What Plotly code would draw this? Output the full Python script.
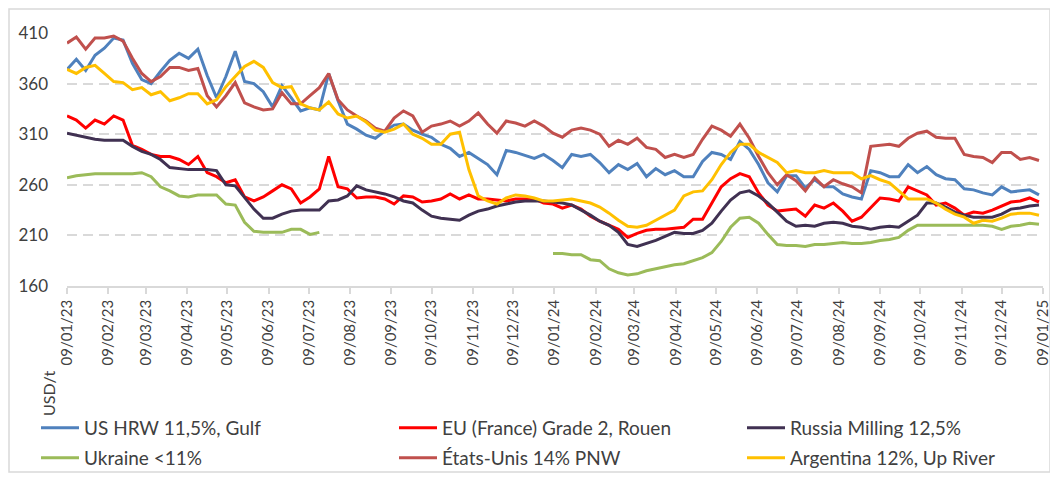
import pandas as pd
import plotly.graph_objects as go

# Weekly observation dates (every Monday from 9 Jan 2023)
dates = pd.date_range("2023-01-09", periods=105, freq="7D")

us_hrw_gulf = [374, 384, 373, 388, 395, 405, 403, 380, 364, 360, 372, 383, 390, 385, 394, 368, 346, 367, 392, 362,
               360, 352, 337, 358, 346, 333, 336, 334, 370, 343, 320, 315, 309, 306, 313, 319, 320, 314, 310, 307,
               300, 296, 288, 292, 286, 280, 270, 294, 292, 289, 286, 290, 284, 277, 290, 288, 290, 282, 272, 280,
               275, 281, 268, 276, 270, 274, 268, 268, 283, 292, 290, 285, 303, 295, 280, 262, 253, 269, 269, 257,
               265, 258, 258, 251, 248, 246, 274, 272, 268, 268, 280, 272, 278, 270, 266, 265, 256, 255, 252, 250,
               258, 253, 254, 255, 250]

eu_france_rouen = [328, 324, 316, 324, 320, 328, 324, 299, 295, 290, 288, 288, 285, 280, 288, 272, 268, 262, 265, 248,
                   244, 248, 254, 260, 256, 242, 248, 256, 288, 258, 256, 247, 248, 248, 246, 241, 249, 248, 243, 244,
                   246, 251, 246, 250, 246, 246, 245, 244, 246, 246, 246, 242, 241, 237, 240, 236, 229, 224, 220, 216,
                   208, 212, 215, 216, 216, 217, 218, 226, 226, 242, 258, 266, 271, 268, 252, 240, 234, 235, 236, 229,
                   240, 237, 242, 234, 224, 228, 238, 247, 246, 244, 258, 254, 250, 240, 242, 237, 230, 233, 232, 235,
                   239, 243, 244, 247, 243]

russia_milling = [311, 309, 307, 305, 304, 304, 304, 298, 293, 290, 285, 277, 276, 275, 275, 275, 274, 260, 259, 247,
                  236, 227, 227, 231, 234, 235, 235, 235, 244, 245, 249, 259, 255, 253, 251, 248, 244, 242, 235, 229,
                  227, 226, 225, 230, 234, 236, 239, 241, 243, 244, 244, 244, 243, 242, 240, 235, 230, 224, 220, 213,
                  201, 199, 202, 205, 209, 213, 212, 212, 215, 222, 234, 245, 252, 254, 249, 242, 233, 224, 219, 220,
                  219, 222, 223, 222, 219, 218, 216, 218, 219, 218, 224, 230, 242, 242, 238, 233, 230, 228, 228, 228,
                  231, 236, 237, 239, 240]

ukraine = [267, 269, 270, 271, 271, 271, 271, 271, 272, 268, 258, 254, 249, 248, 250, 250, 250, 241, 240, 223,
           214, 213, 213, 213, 216, 216, 211, 213, None, None, None, None, None, None, None, None, None, None, None, None,
           None, None, None, None, None, None, None, None, None, None, None, None, 192, 192, 191, 191, 186, 185, 177, 173,
           171, 172, 175, 177, 179, 181, 182, 185, 188, 193, 204, 218, 227, 228, 222, 211, 201, 200, 200, 199,
           201, 201, 202, 203, 202, 202, 203, 205, 206, 208, 215, 220, 220, 220, 220, 220, 220, 220, 220, 219,
           216, 219, 220, 222, 221]

us_pnw = [400, 406, 394, 405, 405, 407, 402, 385, 370, 362, 367, 376, 376, 373, 375, 348, 337, 348, 361, 341,
          337, 334, 335, 351, 340, 340, 348, 356, 370, 344, 334, 328, 323, 316, 313, 326, 333, 328, 312, 318,
          320, 323, 318, 323, 331, 320, 311, 323, 321, 318, 323, 318, 311, 307, 314, 316, 314, 310, 298, 304,
          300, 306, 297, 295, 287, 290, 287, 290, 305, 318, 314, 308, 320, 306, 288, 272, 260, 270, 264, 254,
          267, 258, 265, 261, 258, 252, 298, 299, 300, 298, 306, 311, 313, 307, 306, 306, 290, 288, 287, 282,
          292, 292, 285, 287, 284]

argentina = [374, 370, 376, 378, 370, 362, 361, 354, 356, 349, 352, 343, 346, 350, 350, 340, 344, 357, 367, 377,
             382, 376, 361, 356, 357, 340, 336, 334, 342, 330, 326, 328, 322, 314, 312, 315, 320, 310, 306, 300,
             300, 310, 312, 275, 249, 244, 241, 247, 250, 249, 247, 244, 244, 245, 246, 244, 242, 238, 232, 225,
             219, 218, 220, 225, 230, 235, 249, 253, 254, 265, 280, 292, 300, 300, 292, 287, 282, 272, 274, 272,
             272, 274, 272, 272, 272, 266, 269, 265, 262, 254, 246, 246, 246, 242, 236, 231, 228, 222, 225, 224,
             227, 231, 232, 232, 230]

series_names = ["US HRW 11,5%, Gulf", "EU (France) Grade 2, Rouen", "Russia Milling 12,5%",
                "Ukraine <11%", "États-Unis 14% PNW", "Argentina 12%, Up River"]
series_values = [us_hrw_gulf, eu_france_rouen, russia_milling, ukraine, us_pnw, argentina]
series_colors = ["#4F81BD", "#FF0000", "#403152", "#9BBB59", "#C0504D", "#FFC000"]

tick_dates = pd.date_range("2023-01-09", periods=25, freq=pd.DateOffset(months=1))
tick_text = [d.strftime("%d/%m/%y") for d in tick_dates]
y_ticks = [160, 210, 260, 310, 360, 410]

FONT = "Lato"
GREY = "#404040"

# page body adds an 8px offset, so the figure is sized to the remaining window
W, H = 1050, 471
L, R, T, B = 59, 15, 25, 193
pw, ph = W - L - R, H - T - B


def px_x(p):
    return (p - L) / pw


def px_y(p):
    return (H - B - p) / ph


# legend slot per series: (left pixel, row centre pixel) in figure pixels
legend_cols = [28, 386, 734]
legend_rows = [420, 450]

fig = go.Figure()
layout_legends = {}
for i, (name, vals, col) in enumerate(zip(series_names, series_values, series_colors)):
    key = "legend" if i == 0 else f"legend{i + 1}"
    fig.add_trace(go.Scatter(
        x=dates, y=vals, name=name, mode="lines",
        line=dict(color=col, width=3),
        connectgaps=False,
        legend=key,
    ))
    layout_legends[key] = dict(
        orientation="h", xanchor="left", yanchor="middle",
        x=px_x(legend_cols[i % 3]), y=px_y(legend_rows[i // 3]),
        font=dict(family=FONT, size=19, color=GREY),
        bgcolor="rgba(0,0,0,0)", borderwidth=0, itemwidth=38,
    )

fig.update_layout(
    width=W, height=H,
    margin=dict(l=L, r=R, t=T, b=B, autoexpand=False),
    paper_bgcolor="white", plot_bgcolor="white",
    showlegend=True,
    xaxis=dict(
        range=[tick_dates[0], tick_dates[-1]],
        tickmode="array", tickvals=tick_dates, ticktext=tick_text,
        tickangle=-90, tickfont=dict(family=FONT, size=15, color=GREY),
        showgrid=False, zeroline=False,
        showline=True, linecolor="#D9D9D9", linewidth=1.5,
        ticks="outside", ticklen=6, tickcolor="#D9D9D9", tickwidth=1.5,
        automargin=False,
    ),
    yaxis=dict(
        range=[160, 410], tickmode="array", tickvals=y_ticks,
        tickfont=dict(family=FONT, size=17, color=GREY),
        showgrid=True, gridcolor="#D9D9D9", gridwidth=1.5, griddash="10px,6px",
        zeroline=False, showline=False, ticks="", ticklabelstandoff=18,
        automargin=False,
    ),
    annotations=[dict(
        text="USD/t", textangle=-90, showarrow=False,
        xref="paper", yref="paper", x=px_x(40), y=px_y(386),
        xanchor="center", yanchor="middle",
        font=dict(family=FONT, size=16, color=GREY),
    )],
    shapes=[dict(
        type="rect", xref="paper", yref="paper",
        x0=px_x(1), x1=px_x(1042), y0=px_y(464), y1=px_y(1),
        line=dict(color="#D9D9D9", width=1.5), layer="below",
    )],
    **layout_legends,
)

fig.write_html("out.html")
